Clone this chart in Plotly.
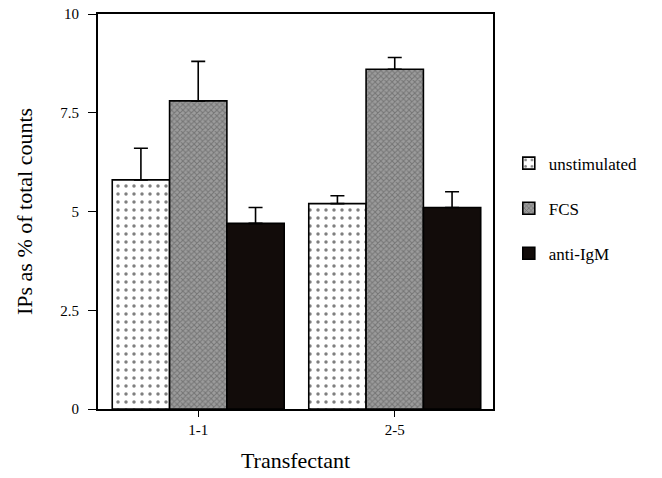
import plotly.graph_objects as go

# Inositol phosphate release per transfectant and stimulus
transfectants = ["1-1", "2-5"]
unstimulated = [5.8, 5.2]
unstimulated_err = [0.8, 0.2]
fcs = [7.8, 8.6]
fcs_err = [1.0, 0.3]
anti_igm = [4.7, 5.1]
anti_igm_err = [0.4, 0.4]
y_ticks = [0, 2.5, 5, 7.5, 10]
y_tick_labels = ["0", "2.5", "5", "7.5", "10"]

FONT = "Liberation Serif, Times New Roman, serif"

series = [
    ("unstimulated", unstimulated, unstimulated_err,
     dict(color="white", pattern=dict(shape=".", fgcolor="black", bgcolor="white",
                                      size=8, solidity=0.15, fillmode="overlay"))),
    ("FCS", fcs, fcs_err,
     dict(color="#808080", pattern=dict(shape="x", fgcolor="#4e4e4e", bgcolor="#9c9c9c",
                                        size=4, solidity=0.45, fillmode="overlay"))),
    ("anti-IgM", anti_igm, anti_igm_err, dict(color="#120c0a")),
]

fig = go.Figure()
for i, (name, vals, errs, marker) in enumerate(series):
    marker = dict(marker)
    marker["line"] = dict(color="black", width=1.6)
    fig.add_trace(go.Bar(
        name=name,
        x=transfectants,
        y=vals,
        marker=marker,
        legendgroup=f"g{i}",
        error_y=dict(type="data", array=errs, arrayminus=[0] * len(errs),
                     symmetric=False, color="black", thickness=1.6, width=7),
    ))

fig.update_layout(
    width=662,
    height=478,
    margin=dict(l=98, r=169, t=14, b=69),
    paper_bgcolor="white",
    plot_bgcolor="white",
    barmode="group",
    bargap=0.125,
    bargroupgap=0,
    font=dict(family=FONT, color="black", size=15),
    showlegend=True,
    legend=dict(
        x=1.04, y=0.667, xanchor="left", yanchor="top",
        font=dict(family=FONT, size=17, color="black"),
        tracegroupgap=20,
        bgcolor="rgba(0,0,0,0)",
    ),
    xaxis=dict(
        range=[-0.51, 1.5],
        automargin=False,
        showline=True, linecolor="black", linewidth=1.8, mirror=True,
        ticks="outside", ticklen=6, tickwidth=1.2, tickcolor="black",
        tickfont=dict(size=15),
        title=dict(text="Transfectant", font=dict(size=22), standoff=16),
        showgrid=False,
    ),
    yaxis=dict(
        range=[0, 10],
        automargin=False,
        tickvals=y_ticks, ticktext=y_tick_labels,
        showline=True, linecolor="black", linewidth=1.8, mirror=True,
        ticks="outside", ticklen=8, tickwidth=1.2, tickcolor="black",
        ticklabelstandoff=6,
        tickfont=dict(size=15),
        title=dict(text="IPs as % of total counts", font=dict(size=22), standoff=22),
        showgrid=False, zeroline=False,
    ),
)

fig.write_html("out.html")
